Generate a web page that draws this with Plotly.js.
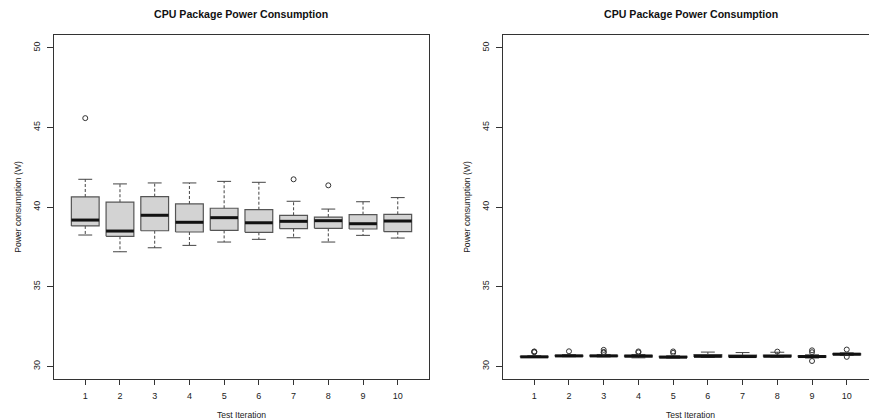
<!DOCTYPE html>
<html>
<head>
<meta charset="utf-8">
<script src="https://cdn.plot.ly/plotly-3.0.1.min.js"></script>
<style>
  html, body { margin: 0; padding: 0; overflow: hidden; background: #fff; }
  #chart { width: 900px; height: 420px; }
</style>
</head>
<body>
<div id="chart"></div>
<script>
// ---- Data ----
const iterations = [1, 2, 3, 4, 5, 6, 7, 8, 9, 10];
const tickLabels = ["1", "2", "3", "4", "5", "6", "7", "8", "9", "10"];

// Left panel
const leftLowerWhisker = [38.24, 37.19, 37.44, 37.59, 37.80, 37.97, 38.07, 37.80, 38.22, 38.05];
const leftQ1           = [38.81, 38.16, 38.51, 38.43, 38.53, 38.41, 38.64, 38.66, 38.62, 38.45];
const leftMedian       = [39.18, 38.49, 39.48, 39.04, 39.33, 39.01, 39.10, 39.14, 38.95, 39.12];
const leftQ3           = [40.63, 40.30, 40.65, 40.19, 39.92, 39.83, 39.48, 39.37, 39.52, 39.54];
const leftUpperWhisker = [41.74, 41.45, 41.51, 41.51, 41.61, 41.55, 40.36, 39.87, 40.33, 40.59];
const leftOutliers     = [[45.58], [], [], [], [], [], [41.74], [41.36], [], []];

// Right panel
const rightLowerWhisker = [30.55, 30.60, 30.59, 30.53, 30.52, 30.55, 30.55, 30.57, 30.52, 30.68];
const rightQ1           = [30.57, 30.62, 30.62, 30.58, 30.55, 30.58, 30.58, 30.60, 30.57, 30.71];
const rightMedian       = [30.59, 30.65, 30.65, 30.64, 30.57, 30.63, 30.61, 30.63, 30.61, 30.76];
const rightQ3           = [30.62, 30.68, 30.68, 30.69, 30.62, 30.73, 30.70, 30.70, 30.66, 30.80];
const rightUpperWhisker = [30.66, 30.73, 30.74, 30.74, 30.66, 30.89, 30.86, 30.88, 30.72, 30.84];
const rightOutliers     = [[30.88, 30.91, 30.93], [30.94], [30.86, 30.90, 31.03], [30.87, 30.93],
                           [30.84, 30.93], [], [], [30.92], [30.33, 30.88, 31.00], [30.59, 31.05]];

const yTickVals = [30, 35, 40, 45, 50];
const chartTitle = "CPU Package Power Consumption";
const xTitle = "Test Iteration";
const yTitle = "Power consumption (W)";

// ---- Styling ----
const W = 900, H = 420;
const HALF = 0.4, CAP = 0.2;
const FONT = "Liberation Sans, Arial, Helvetica, sans-serif";
const FRAME = "#333333";

function panelTraces(xa, ya, lw, q1, med, q3, uw, outs) {
  const bx = [], by = [], wx = [], wy = [], cx = [], cy = [], mx = [], my = [], ox = [], oy = [];
  iterations.forEach((it, i) => {
    bx.push(it - HALF, it + HALF, it + HALF, it - HALF, it - HALF, null);
    by.push(q1[i], q1[i], q3[i], q3[i], q1[i], null);
    wx.push(it, it, null, it, it, null);
    wy.push(q3[i], uw[i], null, q1[i], lw[i], null);
    cx.push(it - CAP, it + CAP, null, it - CAP, it + CAP, null);
    cy.push(uw[i], uw[i], null, lw[i], lw[i], null);
    mx.push(it - HALF, it + HALF, null);
    my.push(med[i], med[i], null);
    outs[i].forEach(v => { ox.push(it); oy.push(v); });
  });
  const common = { xaxis: xa, yaxis: ya, hoverinfo: "skip", showlegend: false, type: "scatter" };
  return [
    Object.assign({}, common, { x: wx, y: wy, mode: "lines", line: { color: "#444", width: 1, dash: "3px,2px" } }),
    Object.assign({}, common, { x: cx, y: cy, mode: "lines", line: { color: "#444", width: 1 } }),
    Object.assign({}, common, { x: bx, y: by, mode: "lines", fill: "toself", fillcolor: "#d3d3d3",
                                line: { color: "#555", width: 1.2 } }),
    Object.assign({}, common, { x: mx, y: my, mode: "lines", line: { color: "#111", width: 3 } }),
    Object.assign({}, common, { x: ox, y: oy, mode: "markers",
                                marker: { symbol: "circle-open", size: 5, color: "#333", line: { width: 1, color: "#333" } } })
  ];
}

const traces = [].concat(
  panelTraces("x", "y", leftLowerWhisker, leftQ1, leftMedian, leftQ3, leftUpperWhisker, leftOutliers),
  panelTraces("x2", "y2", rightLowerWhisker, rightQ1, rightMedian, rightQ3, rightUpperWhisker, rightOutliers)
);

const px = v => v / W;
const yDom = [(H - 379) / H, (H - 35) / H];

function xAxis(domain, anchor) {
  return {
    domain: domain, anchor: anchor, range: [0.1, 10.9],
    tickmode: "array", tickvals: iterations, ticktext: tickLabels,
    ticks: "outside", ticklen: 5, tickcolor: FRAME, tickwidth: 1,
    ticklabelstandoff: 3,
    showline: true, mirror: true, linecolor: FRAME, linewidth: 1,
    showgrid: false, zeroline: false, fixedrange: true,
    tickfont: { family: FONT, size: 9, color: "#222" },
    title: { text: xTitle, font: { family: FONT, size: 8.6, color: "#222" }, standoff: 13 }
  };
}
function yAxis(anchor) {
  return {
    domain: yDom, anchor: anchor, range: [29.2, 50.8],
    tickmode: "array", tickvals: yTickVals,
    ticks: "outside", ticklen: 6, tickcolor: FRAME, tickwidth: 1,
    tickangle: -90, ticklabelstandoff: 3,
    showline: true, mirror: true, linecolor: FRAME, linewidth: 1,
    showgrid: false, zeroline: false, fixedrange: true,
    tickfont: { family: FONT, size: 9, color: "#222" },
    title: { text: yTitle, font: { family: FONT, size: 8.6, color: "#222" }, standoff: 9 }
  };
}

const xd1 = [px(54), px(429)], xd2 = [px(503), px(878)];

const layout = {
  width: W, height: H,
  margin: { l: 0, r: 0, t: 0, b: 0 },
  paper_bgcolor: "#fff", plot_bgcolor: "#fff",
  showlegend: false,
  xaxis: xAxis(xd1, "y"),
  yaxis: yAxis("x"),
  xaxis2: xAxis(xd2, "y2"),
  yaxis2: yAxis("x2"),
  annotations: [
    { text: "<b>" + chartTitle + "</b>", xref: "paper", yref: "paper",
      x: (xd1[0] + xd1[1]) / 2, y: (H - 14) / H, xanchor: "center", yanchor: "middle",
      showarrow: false, font: { family: FONT, size: 10.6, color: "#111" } },
    { text: "<b>" + chartTitle + "</b>", xref: "paper", yref: "paper",
      x: (xd2[0] + xd2[1]) / 2, y: (H - 14) / H, xanchor: "center", yanchor: "middle",
      showarrow: false, font: { family: FONT, size: 10.6, color: "#111" } }
  ]
};

Plotly.newPlot("chart", traces, layout, { staticPlot: true, displayModeBar: false });
</script>
</body>
</html>
